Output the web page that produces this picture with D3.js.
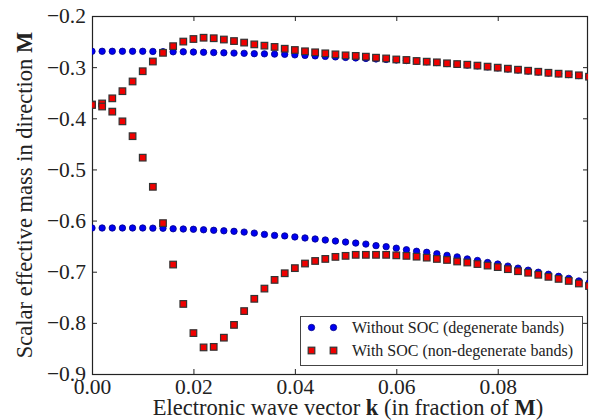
<!DOCTYPE html>
<html>
<head>
<meta charset="utf-8">
<script src="https://d3js.org/d3.v7.min.js"></script>
<style>
  body { margin: 0; background: #fff; }
</style>
</head>
<body>
<div id="chart"></div>
<script>
// k values (fraction of M), step 0.002
const kValues = d3.range(50).map(i => +(i * 0.002).toFixed(3))

// Without SOC (degenerate bands)
const noSocUpper = [-0.269, -0.269, -0.269, -0.269, -0.269, -0.269, -0.2693, -0.2697, -0.270, -0.270,
    -0.2705, -0.271, -0.2715, -0.272, -0.2725, -0.273, -0.2737, -0.274, -0.2745, -0.275,
    -0.276, -0.277, -0.278, -0.279, -0.280, -0.281, -0.282, -0.283, -0.284, -0.285,
    -0.286, -0.287, -0.2885, -0.2895, -0.291, -0.293, -0.2945, -0.296, -0.2975, -0.2995,
    -0.3015, -0.3035, -0.3055, -0.3075, -0.3095, -0.3115, -0.313, -0.3145, -0.3165, -0.319]
const noSocLower = [-0.6145, -0.6145, -0.6145, -0.6145, -0.6145, -0.6145, -0.6148, -0.615, -0.616, -0.6165,
    -0.617, -0.618, -0.619, -0.620, -0.621, -0.6225, -0.6245, -0.627, -0.629, -0.630,
    -0.632, -0.634, -0.636, -0.638, -0.640, -0.642, -0.644, -0.646, -0.649, -0.651,
    -0.654, -0.657, -0.660, -0.662, -0.665, -0.668, -0.671, -0.675, -0.678, -0.682,
    -0.685, -0.689, -0.693, -0.697, -0.701, -0.705, -0.709, -0.713, -0.718, -0.722]

// With SOC (non-degenerate bands)
const socUpper = [-0.373, -0.371, -0.361, -0.347, -0.328, -0.308, -0.289, -0.272, -0.259, -0.250,
    -0.245, -0.2425, -0.2435, -0.246, -0.249, -0.252, -0.2555, -0.258, -0.2605, -0.264,
    -0.2665, -0.269, -0.271, -0.273, -0.275, -0.277, -0.278, -0.2795, -0.2815, -0.283,
    -0.285, -0.286, -0.288, -0.2893, -0.2906, -0.2925, -0.294, -0.2952, -0.297, -0.299,
    -0.301, -0.303, -0.305, -0.307, -0.309, -0.311, -0.3128, -0.314, -0.316, -0.3187]
const socLower = [-0.374, -0.377, -0.387, -0.406, -0.435, -0.477, -0.534, -0.605, -0.686, -0.763,
    -0.820, -0.848, -0.847, -0.829, -0.804, -0.777, -0.753, -0.733, -0.716, -0.703,
    -0.693, -0.684, -0.679, -0.675, -0.671, -0.669, -0.667, -0.667, -0.667, -0.667,
    -0.668, -0.669, -0.6706, -0.6725, -0.675, -0.677, -0.680, -0.682, -0.685, -0.688,
    -0.691, -0.695, -0.699, -0.702, -0.706, -0.710, -0.714, -0.718, -0.723, -0.728]

const xTicks = [0, 0.02, 0.04, 0.06, 0.08]
const yTicks = [-0.9, -0.8, -0.7, -0.6, -0.5, -0.4, -0.3, -0.2]
const legendLabels = ["Without SOC (degenerate bands)", "With SOC (non-degenerate bands)"]

const FONT = "Liberation Serif, Times New Roman, serif"
const width = 589, height = 420
const margin = { left: 92, top: 16, right: 1, bottom: 46 }

const x = d3.scaleLinear().domain([0, 0.0978]).range([margin.left, width - margin.right])
const y = d3.scaleLinear().domain([-0.9, -0.2]).range([height - margin.bottom, margin.top])

const svg = d3.select("#chart").append("svg")
    .attr("width", width)
    .attr("height", height)
    .attr("font-family", FONT)

svg.append("clipPath").attr("id", "plotclip")
    .append("rect")
    .attr("x", margin.left).attr("y", margin.top)
    .attr("width", width - margin.right - margin.left)
    .attr("height", height - margin.bottom - margin.top)

const fmt = d => d3.format(".2f")(d)
const fmtY = d => d3.format(".1f")(d).replace("-", "\u2212")

// bottom axis
svg.append("g")
    .attr("transform", "translate(0," + y.range()[0] + ")")
    .call(d3.axisBottom(x).tickValues(xTicks).tickFormat(fmt).tickSizeInner(-5).tickSizeOuter(0).tickPadding(5))
// top axis (ticks only)
svg.append("g")
    .attr("transform", "translate(0," + y.range()[1] + ")")
    .call(d3.axisTop(x).tickValues(xTicks).tickFormat("").tickSizeInner(-5).tickSizeOuter(0))
// left axis
svg.append("g")
    .attr("transform", "translate(" + x.range()[0] + ",0)")
    .call(d3.axisLeft(y).tickValues(yTicks).tickFormat(fmtY).tickSizeInner(-5).tickSizeOuter(0).tickPadding(6))
// right axis (ticks only)
svg.append("g")
    .attr("transform", "translate(" + x.range()[1] + ",0)")
    .call(d3.axisRight(y).tickValues(yTicks).tickFormat("").tickSizeInner(-5).tickSizeOuter(0))

svg.selectAll(".domain").remove()
svg.selectAll("g").attr("font-family", FONT).attr("font-size", 21)
svg.selectAll(".tick line").attr("stroke", "#222")
svg.selectAll(".tick text")
    .attr("font-family", FONT)
    .attr("font-size", 21.5)
    .attr("fill", "#222")

// frame
svg.append("rect")
    .attr("x", margin.left + 0.5).attr("y", margin.top + 0.5)
    .attr("width", width - margin.right - margin.left - 1)
    .attr("height", height - margin.bottom - margin.top)
    .attr("fill", "none").attr("stroke", "#222").attr("stroke-width", 1.2)

const plot = svg.append("g").attr("clip-path", "url(#plotclip)")

function drawCircles(vals) {
    plot.append("g").selectAll("circle")
        .data(vals)
        .enter().append("circle")
        .attr("cx", (d, i) => x(kValues[i]))
        .attr("cy", d => y(d))
        .attr("r", 3.2)
        .attr("fill", "#0000f0")
        .attr("stroke", "#00008a")
        .attr("stroke-width", 0.8)
}
function drawSquares(vals) {
    plot.append("g").selectAll("rect")
        .data(vals)
        .enter().append("rect")
        .attr("x", (d, i) => x(kValues[i]) - 3.3)
        .attr("y", d => y(d) - 3.3)
        .attr("width", 6.6).attr("height", 6.6)
        .attr("fill", "#f00000")
        .attr("stroke", "#333")
        .attr("stroke-width", 1.2)
}
drawCircles(noSocUpper)
drawCircles(noSocLower)
drawSquares(socUpper)
drawSquares(socLower)

// axis labels
const xl = svg.append("text")
    .attr("x", 348).attr("y", 415)
    .attr("text-anchor", "middle")
    .attr("font-family", FONT)
    .attr("font-size", 22.5)
    .attr("fill", "#222")
xl.append("tspan").text("Electronic wave vector ")
xl.append("tspan").attr("font-weight", "bold").text("k")
xl.append("tspan").text(" (in fraction of ")
xl.append("tspan").attr("font-weight", "bold").text("M")
xl.append("tspan").text(")")

const yl = svg.append("text")
    .attr("transform", "translate(32," + ((y.range()[0] + y.range()[1]) / 2) + ") rotate(-90)")
    .attr("text-anchor", "middle")
    .attr("font-family", FONT)
    .attr("font-size", 22.5)
    .attr("fill", "#222")
yl.append("tspan").text("Scalar effective mass in direction ")
yl.append("tspan").attr("font-weight", "bold").text("M")

// legend
const leg = svg.append("g")
leg.append("rect")
    .attr("x", 300.5).attr("y", 316.5).attr("width", 282).attr("height", 49)
    .attr("fill", "#fff").attr("stroke", "#444").attr("stroke-width", 1)
const rowY = [327.5, 350.5]
;[311.5, 333.5].forEach(mx => {
    leg.append("circle").attr("cx", mx).attr("cy", rowY[0]).attr("r", 3.2)
        .attr("fill", "#0000f0").attr("stroke", "#00008a").attr("stroke-width", 0.8)
    leg.append("rect").attr("x", mx - 3.3).attr("y", rowY[1] - 3.3).attr("width", 6.6).attr("height", 6.6)
        .attr("fill", "#f00000").attr("stroke", "#333").attr("stroke-width", 1.2)
})
leg.selectAll("text.lbl")
    .data(legendLabels)
    .enter().append("text")
    .attr("class", "lbl")
    .attr("x", 352)
    .attr("y", (d, i) => rowY[i] + 5)
    .attr("font-family", FONT)
    .attr("font-size", 16)
    .attr("fill", "#222")
    .text(d => d)
</script>
</body>
</html>
